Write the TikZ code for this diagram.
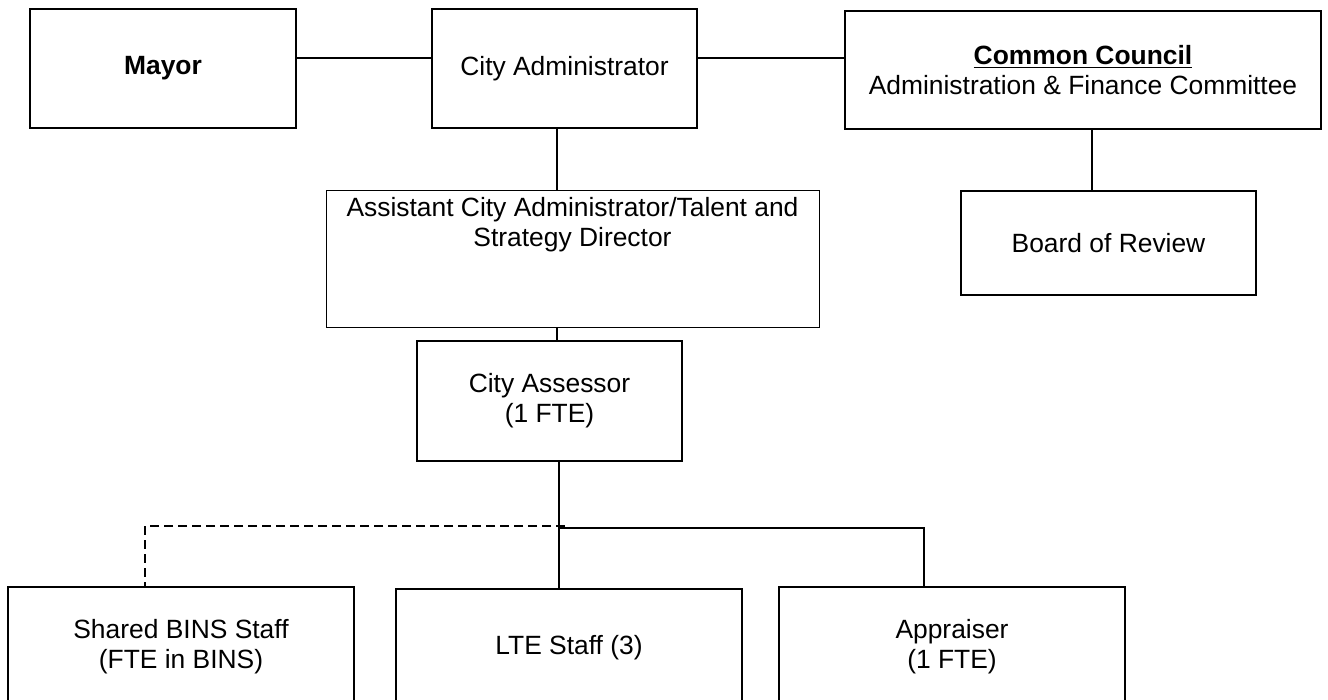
\documentclass[tikz,border=0pt]{standalone}
\usepackage{fontspec}
\setmainfont{Liberation Sans}

\begin{document}
\begin{tikzpicture}[x=0.5pt,y=0.5pt,yscale=-1,
		box/.style={draw, line width=0.9pt, inner sep=0pt, outer sep=0pt, align=center, font=\fontsize{13.2}{15}\selectfont},
		link/.style={line width=0.85pt}]
		\useasboundingbox (0,0) rectangle (1328,700);
		\clip (0,0) rectangle (1328,700);

		% Top row: Mayor, City Administrator, Common Council
		\node[box, minimum width=133pt, minimum height=59.5pt] (mayor) at (163,68.5) {\textbf{Mayor}};
		\node[box, minimum width=132.5pt, minimum height=59.5pt] (admin) at (564.5,68.5) {City Administrator};
		\node[box, minimum width=238pt, minimum height=59pt] (council) at (1083,70) {\underline{\textbf{Common Council}}\\Administration \& Finance Committee};

		% Second row
		\node[box, line width=0.5pt, minimum width=246.5pt, minimum height=68.5pt, text depth=38pt] (asst) at (572.5,259.5) {Assistant City Administrator/Talent and\\Strategy Director};
		\node[box, minimum width=147.5pt, minimum height=52pt] (board) at (1108.5,243) {Board of Review};

		% City Assessor
		\node[box, minimum width=132.5pt, minimum height=60pt] (assessor) at (549.5,401) {City Assessor\\(1 FTE)};

		% Bottom row (cut off by the page edge)
		\node[box, minimum width=173pt, minimum height=59.5pt] (shared) at (181,646.5) {Shared BINS Staff\\(FTE in BINS)};
		\node[box, minimum width=173pt, minimum height=58.5pt] (lte) at (569,647.5) {LTE Staff (3)};
		\node[box, minimum width=173pt, minimum height=59.5pt] (appr) at (952,646.5) {Appraiser\\(1 FTE)};

		% Connectors of the top part
		\draw[link] (mayor.east |- 0,58) -- (admin.west |- 0,58);
		\draw[link] (admin.east |- 0,58) -- (council.west |- 0,58);
		\draw[link] (admin.south -| 557,0) -- (asst.north -| 557,0);
		\draw[link] (council.south -| 1092,0) -- (board.north -| 1092,0);
		\draw[link] (asst.south -| 557,0) -- (assessor.north -| 557,0);

		% Connectors below the City Assessor
		\coordinate (split) at (559,528);
		\draw[link] (assessor.south -| split) -- (lte.north -| split);
		\draw[link] (split) -- (924,528) -- (appr.north -| 924,0);
		\draw[link, dash pattern=on 4.5pt off 2.5pt] (565,526) -- (145,526) -- (shared.north -| 145,0);
	\end{tikzpicture}
\end{document}
